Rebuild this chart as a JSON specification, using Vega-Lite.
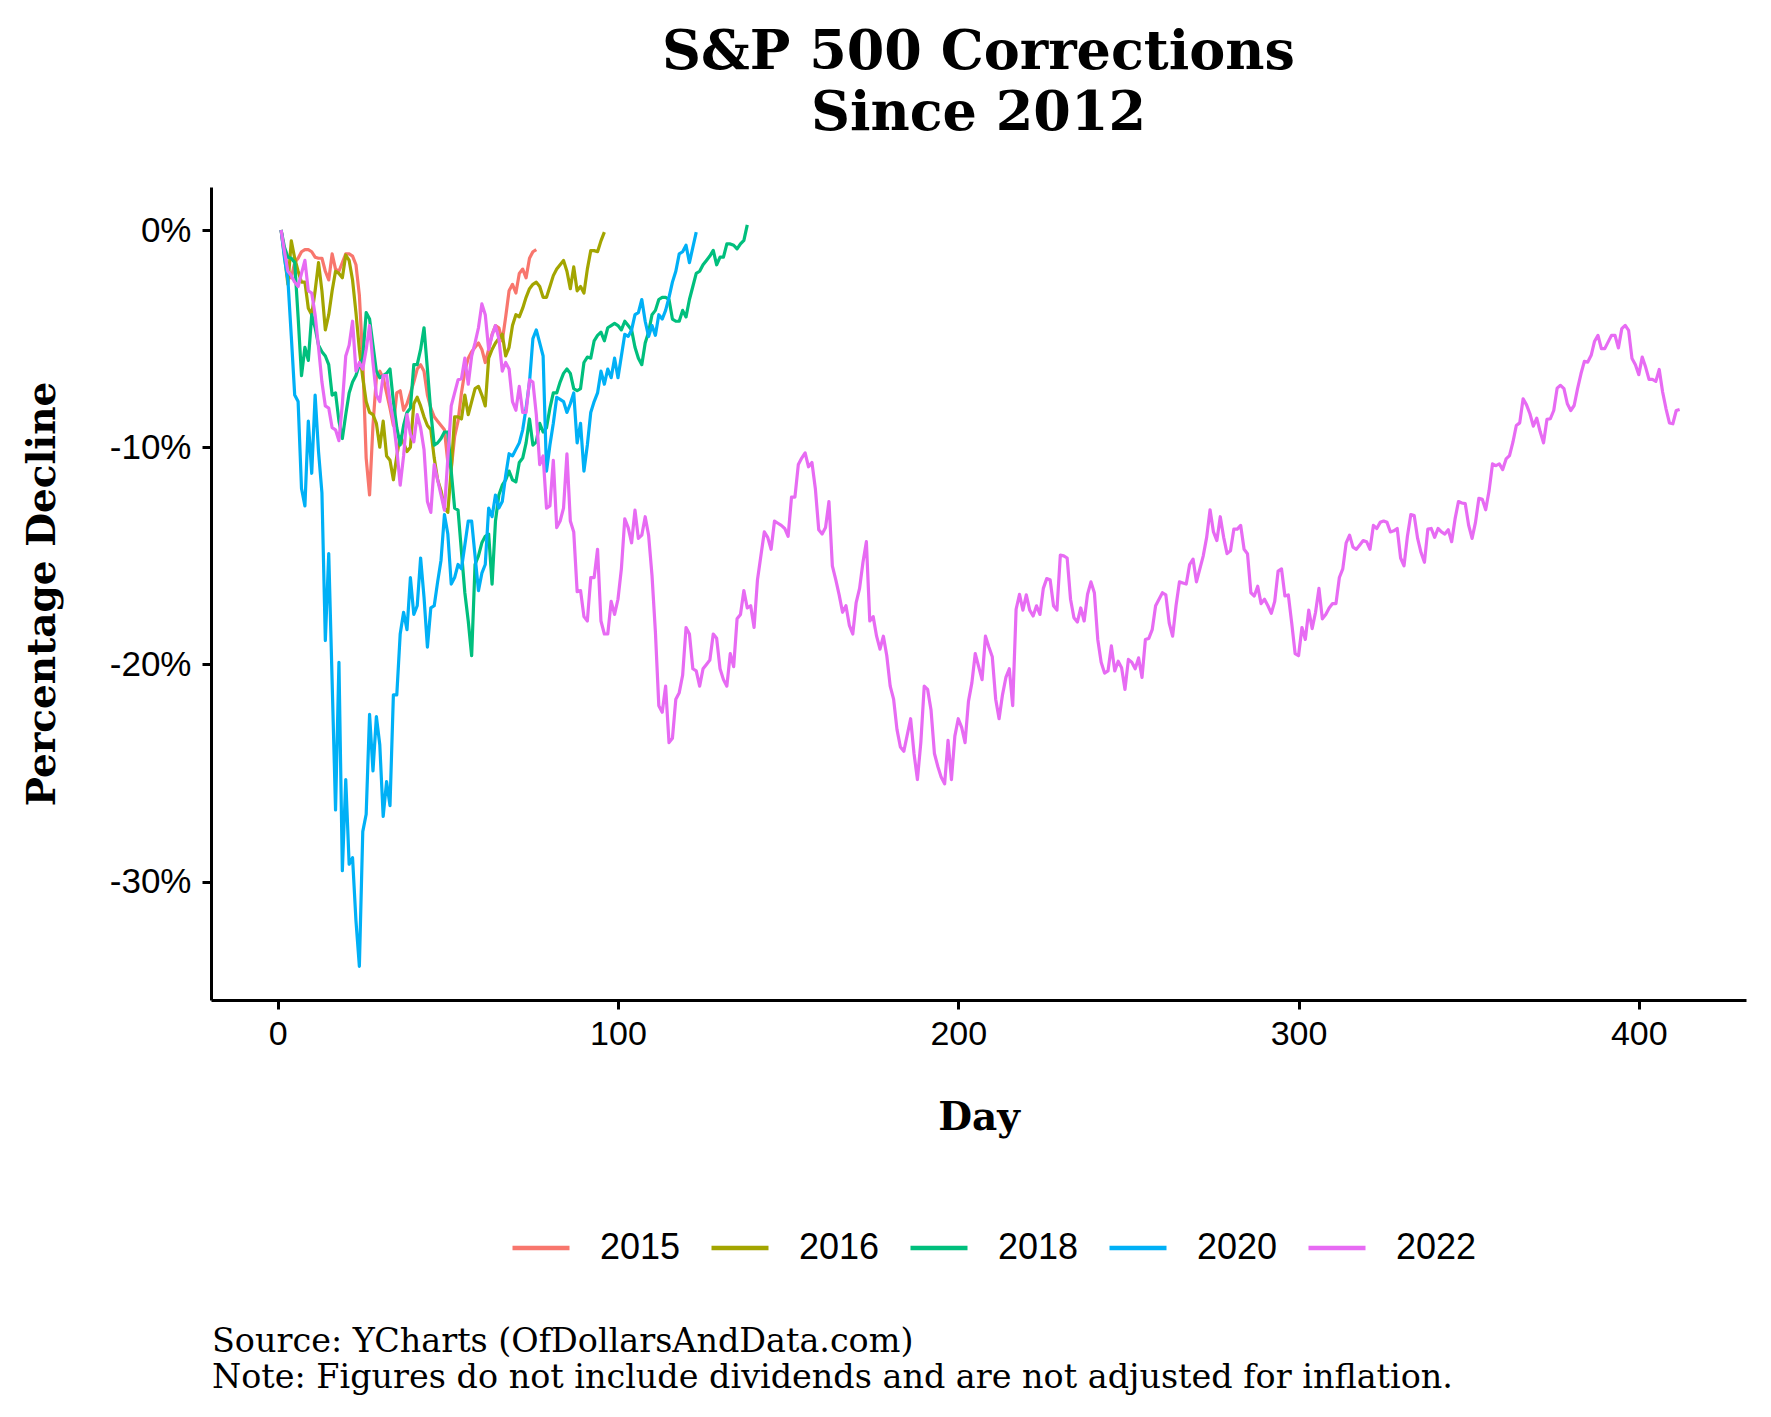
{
"$schema":"https://vega.github.io/schema/vega-lite/v6.json",
"width":1535,"height":813,
"autosize":{"type":"none"},
"padding":{"left":211,"top":187,"right":25,"bottom":417},
"background":"white",
"title":{"text":["S&P 500 Corrections","Since 2012"],"font":"DejaVu Serif","fontSize":54,"fontWeight":"bold","lineHeight":61,"anchor":"middle","frame":"group","offset":46,"color":"black"},
"config":{"view":{"stroke":null},
"axis":{"grid":false,"domainColor":"black","domainWidth":3,"tickColor":"black","tickWidth":3,"tickSize":9,"labelFont":"Liberation Sans","labelFontSize":34,"labelColor":"black","titleFont":"DejaVu Serif","titleFontSize":39,"titleFontWeight":"bold","titleColor":"black"}},
"layer":[
{"data":{"values":[
{"s":"2015","d":1,"v":0},{"s":"2015","d":2,"v":-1.0},{"s":"2015","d":3,"v":-1.8},{"s":"2015","d":4,"v":-2.2},{"s":"2015","d":5,"v":-1.5},{"s":"2015","d":6,"v":-1.3},{"s":"2015","d":7,"v":-1.0},{"s":"2015","d":8,"v":-0.9},{"s":"2015","d":9,"v":-0.9},{"s":"2015","d":10,"v":-1.0},
{"s":"2015","d":11,"v":-1.25},{"s":"2015","d":12,"v":-1.3},{"s":"2015","d":13,"v":-1.3},{"s":"2015","d":14,"v":-1.9},{"s":"2015","d":15,"v":-2.3},{"s":"2015","d":16,"v":-1.1},{"s":"2015","d":17,"v":-1.8},{"s":"2015","d":18,"v":-1.9},{"s":"2015","d":19,"v":-1.5},{"s":"2015","d":20,"v":-1.1},
{"s":"2015","d":21,"v":-1.1},{"s":"2015","d":22,"v":-1.2},{"s":"2015","d":23,"v":-1.6},{"s":"2015","d":24,"v":-3.0},{"s":"2015","d":25,"v":-6.0},{"s":"2015","d":26,"v":-10.5},{"s":"2015","d":27,"v":-12.2},{"s":"2015","d":28,"v":-9.0},{"s":"2015","d":29,"v":-6.8},{"s":"2015","d":30,"v":-6.5},
{"s":"2015","d":31,"v":-6.8},{"s":"2015","d":32,"v":-7.5},{"s":"2015","d":33,"v":-8.2},{"s":"2015","d":34,"v":-9.0},{"s":"2015","d":35,"v":-7.5},{"s":"2015","d":36,"v":-7.4},{"s":"2015","d":37,"v":-8.3},{"s":"2015","d":38,"v":-8.0},{"s":"2015","d":39,"v":-7.5},{"s":"2015","d":40,"v":-7.0},
{"s":"2015","d":41,"v":-6.4},{"s":"2015","d":42,"v":-6.2},{"s":"2015","d":43,"v":-6.5},{"s":"2015","d":44,"v":-7.6},{"s":"2015","d":45,"v":-8.2},{"s":"2015","d":46,"v":-8.6},{"s":"2015","d":47,"v":-8.8},{"s":"2015","d":48,"v":-9.0},{"s":"2015","d":49,"v":-9.2},{"s":"2015","d":50,"v":-10.7},
{"s":"2015","d":51,"v":-11.0},{"s":"2015","d":52,"v":-9.5},{"s":"2015","d":53,"v":-8.8},{"s":"2015","d":54,"v":-7.5},{"s":"2015","d":55,"v":-6.5},{"s":"2015","d":56,"v":-5.9},{"s":"2015","d":57,"v":-5.6},{"s":"2015","d":58,"v":-5.4},{"s":"2015","d":59,"v":-5.2},{"s":"2015","d":60,"v":-5.5},
{"s":"2015","d":61,"v":-6.1},{"s":"2015","d":62,"v":-5.5},{"s":"2015","d":63,"v":-4.8},{"s":"2015","d":64,"v":-4.4},{"s":"2015","d":65,"v":-4.5},{"s":"2015","d":66,"v":-5.1},{"s":"2015","d":67,"v":-4.0},{"s":"2015","d":68,"v":-2.8},{"s":"2015","d":69,"v":-2.5},{"s":"2015","d":70,"v":-2.9},
{"s":"2015","d":71,"v":-2.0},{"s":"2015","d":72,"v":-1.8},{"s":"2015","d":73,"v":-2.2},{"s":"2015","d":74,"v":-1.3},{"s":"2015","d":75,"v":-1.0},{"s":"2015","d":76,"v":-0.9},
{"s":"2016","d":1,"v":0},{"s":"2016","d":2,"v":-1.2},{"s":"2016","d":3,"v":-2.5},{"s":"2016","d":4,"v":-0.5},{"s":"2016","d":5,"v":-1.3},{"s":"2016","d":6,"v":-1.9},{"s":"2016","d":7,"v":-2.4},{"s":"2016","d":8,"v":-2.4},{"s":"2016","d":9,"v":-3.6},{"s":"2016","d":10,"v":-3.9},
{"s":"2016","d":11,"v":-2.8},{"s":"2016","d":12,"v":-1.5},{"s":"2016","d":13,"v":-2.8},{"s":"2016","d":14,"v":-4.6},{"s":"2016","d":15,"v":-3.9},{"s":"2016","d":16,"v":-2.8},{"s":"2016","d":17,"v":-1.9},{"s":"2016","d":18,"v":-2.0},{"s":"2016","d":19,"v":-2.2},{"s":"2016","d":20,"v":-1.15},
{"s":"2016","d":21,"v":-1.4},{"s":"2016","d":22,"v":-2.3},{"s":"2016","d":23,"v":-3.8},{"s":"2016","d":24,"v":-5.5},{"s":"2016","d":25,"v":-6.8},{"s":"2016","d":26,"v":-7.9},{"s":"2016","d":27,"v":-8.4},{"s":"2016","d":28,"v":-8.5},{"s":"2016","d":29,"v":-8.9},{"s":"2016","d":30,"v":-10.0},
{"s":"2016","d":31,"v":-8.8},{"s":"2016","d":32,"v":-10.4},{"s":"2016","d":33,"v":-10.6},{"s":"2016","d":34,"v":-11.5},{"s":"2016","d":35,"v":-10.4},{"s":"2016","d":36,"v":-9.5},{"s":"2016","d":37,"v":-9.8},{"s":"2016","d":38,"v":-10.2},{"s":"2016","d":39,"v":-10.0},{"s":"2016","d":40,"v":-8.0},
{"s":"2016","d":41,"v":-7.7},{"s":"2016","d":42,"v":-8.1},{"s":"2016","d":43,"v":-8.6},{"s":"2016","d":44,"v":-9.0},{"s":"2016","d":45,"v":-9.2},{"s":"2016","d":46,"v":-10.5},{"s":"2016","d":47,"v":-11.5},{"s":"2016","d":48,"v":-12.0},{"s":"2016","d":49,"v":-12.8},{"s":"2016","d":50,"v":-13.0},
{"s":"2016","d":51,"v":-11.0},{"s":"2016","d":52,"v":-8.6},{"s":"2016","d":53,"v":-8.6},{"s":"2016","d":54,"v":-8.7},{"s":"2016","d":55,"v":-7.6},{"s":"2016","d":56,"v":-8.5},{"s":"2016","d":57,"v":-7.9},{"s":"2016","d":58,"v":-7.3},{"s":"2016","d":59,"v":-7.2},{"s":"2016","d":60,"v":-7.6},
{"s":"2016","d":61,"v":-8.1},{"s":"2016","d":62,"v":-5.9},{"s":"2016","d":63,"v":-5.5},{"s":"2016","d":64,"v":-5.2},{"s":"2016","d":65,"v":-5.0},{"s":"2016","d":66,"v":-4.8},{"s":"2016","d":67,"v":-5.8},{"s":"2016","d":68,"v":-5.4},{"s":"2016","d":69,"v":-4.4},{"s":"2016","d":70,"v":-3.9},
{"s":"2016","d":71,"v":-4.0},{"s":"2016","d":72,"v":-3.6},{"s":"2016","d":73,"v":-3.1},{"s":"2016","d":74,"v":-2.7},{"s":"2016","d":75,"v":-2.5},{"s":"2016","d":76,"v":-2.4},{"s":"2016","d":77,"v":-2.6},{"s":"2016","d":78,"v":-3.1},{"s":"2016","d":79,"v":-3.1},{"s":"2016","d":80,"v":-2.6},
{"s":"2016","d":81,"v":-2.1},{"s":"2016","d":82,"v":-1.8},{"s":"2016","d":83,"v":-1.6},{"s":"2016","d":84,"v":-1.4},{"s":"2016","d":85,"v":-1.9},{"s":"2016","d":86,"v":-2.7},{"s":"2016","d":87,"v":-1.7},{"s":"2016","d":88,"v":-2.8},{"s":"2016","d":89,"v":-2.6},{"s":"2016","d":90,"v":-2.9},
{"s":"2016","d":91,"v":-1.8},{"s":"2016","d":92,"v":-0.95},{"s":"2016","d":93,"v":-0.95},{"s":"2016","d":94,"v":-1.0},{"s":"2016","d":95,"v":-0.5},{"s":"2016","d":96,"v":-0.1},
{"s":"2018","d":1,"v":0},{"s":"2018","d":2,"v":-0.8},{"s":"2018","d":3,"v":-1.25},{"s":"2018","d":4,"v":-1.3},{"s":"2018","d":5,"v":-1.5},{"s":"2018","d":6,"v":-4.0},{"s":"2018","d":7,"v":-6.7},{"s":"2018","d":8,"v":-5.4},{"s":"2018","d":9,"v":-6.0},{"s":"2018","d":10,"v":-3.9},
{"s":"2018","d":11,"v":-4.5},{"s":"2018","d":12,"v":-5.3},{"s":"2018","d":13,"v":-5.6},{"s":"2018","d":14,"v":-5.8},{"s":"2018","d":15,"v":-6.2},{"s":"2018","d":16,"v":-7.6},{"s":"2018","d":17,"v":-7.5},{"s":"2018","d":18,"v":-8.8},{"s":"2018","d":19,"v":-9.6},{"s":"2018","d":20,"v":-8.5},
{"s":"2018","d":21,"v":-7.5},{"s":"2018","d":22,"v":-7.0},{"s":"2018","d":23,"v":-6.7},{"s":"2018","d":24,"v":-6.2},{"s":"2018","d":25,"v":-5.9},{"s":"2018","d":26,"v":-3.8},{"s":"2018","d":27,"v":-4.1},{"s":"2018","d":28,"v":-5.3},{"s":"2018","d":29,"v":-6.5},{"s":"2018","d":30,"v":-6.8},
{"s":"2018","d":31,"v":-6.7},{"s":"2018","d":32,"v":-6.6},{"s":"2018","d":33,"v":-6.4},{"s":"2018","d":34,"v":-7.9},{"s":"2018","d":35,"v":-9.1},{"s":"2018","d":36,"v":-9.9},{"s":"2018","d":37,"v":-9.0},{"s":"2018","d":38,"v":-8.4},{"s":"2018","d":39,"v":-8.2},{"s":"2018","d":40,"v":-6.2},
{"s":"2018","d":41,"v":-6.2},{"s":"2018","d":42,"v":-5.5},{"s":"2018","d":43,"v":-4.5},{"s":"2018","d":44,"v":-6.4},{"s":"2018","d":45,"v":-8.4},{"s":"2018","d":46,"v":-9.9},{"s":"2018","d":47,"v":-9.8},{"s":"2018","d":48,"v":-9.6},{"s":"2018","d":49,"v":-9.3},{"s":"2018","d":50,"v":-9.3},
{"s":"2018","d":51,"v":-11.1},{"s":"2018","d":52,"v":-12.8},{"s":"2018","d":53,"v":-12.9},{"s":"2018","d":54,"v":-14.8},{"s":"2018","d":55,"v":-16.7},{"s":"2018","d":56,"v":-18.0},{"s":"2018","d":57,"v":-19.6},{"s":"2018","d":58,"v":-15.4},{"s":"2018","d":59,"v":-15.0},{"s":"2018","d":60,"v":-14.4},
{"s":"2018","d":61,"v":-14.1},{"s":"2018","d":62,"v":-14.0},{"s":"2018","d":63,"v":-16.3},{"s":"2018","d":64,"v":-13.4},{"s":"2018","d":65,"v":-12.2},{"s":"2018","d":66,"v":-11.75},{"s":"2018","d":67,"v":-11.5},{"s":"2018","d":68,"v":-11.1},{"s":"2018","d":69,"v":-11.5},{"s":"2018","d":70,"v":-11.6},
{"s":"2018","d":71,"v":-10.7},{"s":"2018","d":72,"v":-10.5},{"s":"2018","d":73,"v":-9.8},{"s":"2018","d":74,"v":-8.7},{"s":"2018","d":75,"v":-9.9},{"s":"2018","d":76,"v":-9.75},{"s":"2018","d":77,"v":-8.9},{"s":"2018","d":78,"v":-9.3},{"s":"2018","d":79,"v":-9.1},{"s":"2018","d":80,"v":-8.2},
{"s":"2018","d":81,"v":-7.5},{"s":"2018","d":82,"v":-7.5},{"s":"2018","d":83,"v":-7.0},{"s":"2018","d":84,"v":-6.6},{"s":"2018","d":85,"v":-6.4},{"s":"2018","d":86,"v":-6.6},{"s":"2018","d":87,"v":-7.3},{"s":"2018","d":88,"v":-7.4},{"s":"2018","d":89,"v":-7.3},{"s":"2018","d":90,"v":-6.1},
{"s":"2018","d":91,"v":-5.85},{"s":"2018","d":92,"v":-5.9},{"s":"2018","d":93,"v":-5.1},{"s":"2018","d":94,"v":-4.85},{"s":"2018","d":95,"v":-4.7},{"s":"2018","d":96,"v":-5.1},{"s":"2018","d":97,"v":-4.5},{"s":"2018","d":98,"v":-4.4},{"s":"2018","d":99,"v":-4.3},{"s":"2018","d":100,"v":-4.4},
{"s":"2018","d":101,"v":-4.6},{"s":"2018","d":102,"v":-4.2},{"s":"2018","d":103,"v":-4.4},{"s":"2018","d":104,"v":-4.6},{"s":"2018","d":105,"v":-5.4},{"s":"2018","d":106,"v":-5.9},{"s":"2018","d":107,"v":-6.2},{"s":"2018","d":108,"v":-5.2},{"s":"2018","d":109,"v":-4.7},{"s":"2018","d":110,"v":-3.9},
{"s":"2018","d":111,"v":-3.7},{"s":"2018","d":112,"v":-3.2},{"s":"2018","d":113,"v":-3.1},{"s":"2018","d":114,"v":-3.1},{"s":"2018","d":115,"v":-3.2},{"s":"2018","d":116,"v":-4.1},{"s":"2018","d":117,"v":-4.2},{"s":"2018","d":118,"v":-4.2},{"s":"2018","d":119,"v":-3.7},{"s":"2018","d":120,"v":-4.0},
{"s":"2018","d":121,"v":-3.2},{"s":"2018","d":122,"v":-2.6},{"s":"2018","d":123,"v":-2.0},{"s":"2018","d":124,"v":-1.9},{"s":"2018","d":125,"v":-1.6},{"s":"2018","d":126,"v":-1.4},{"s":"2018","d":127,"v":-1.2},{"s":"2018","d":128,"v":-0.94},{"s":"2018","d":129,"v":-1.6},{"s":"2018","d":130,"v":-1.25},
{"s":"2018","d":131,"v":-1.25},{"s":"2018","d":132,"v":-0.64},{"s":"2018","d":133,"v":-0.64},{"s":"2018","d":134,"v":-0.7},{"s":"2018","d":135,"v":-0.87},{"s":"2018","d":136,"v":-0.64},{"s":"2018","d":137,"v":-0.48},{"s":"2018","d":138,"v":0.24},
{"s":"2020","d":1,"v":0},{"s":"2020","d":2,"v":-1.3},{"s":"2020","d":3,"v":-2.3},{"s":"2020","d":4,"v":-4.9},{"s":"2020","d":5,"v":-7.6},{"s":"2020","d":6,"v":-7.9},{"s":"2020","d":7,"v":-11.9},{"s":"2020","d":8,"v":-12.7},{"s":"2020","d":9,"v":-8.8},{"s":"2020","d":10,"v":-11.2},
{"s":"2020","d":11,"v":-7.6},{"s":"2020","d":12,"v":-10.2},{"s":"2020","d":13,"v":-12.1},{"s":"2020","d":14,"v":-18.9},{"s":"2020","d":15,"v":-14.9},{"s":"2020","d":17,"v":-26.7},{"s":"2020","d":18,"v":-19.9},{"s":"2020","d":19,"v":-29.5},{"s":"2020","d":20,"v":-25.3},
{"s":"2020","d":21,"v":-29.2},{"s":"2020","d":22,"v":-28.9},{"s":"2020","d":23,"v":-31.8},{"s":"2020","d":24,"v":-33.9},{"s":"2020","d":25,"v":-27.7},{"s":"2020","d":26,"v":-26.9},{"s":"2020","d":27,"v":-22.3},{"s":"2020","d":28,"v":-24.9},{"s":"2020","d":29,"v":-22.4},{"s":"2020","d":30,"v":-23.7},
{"s":"2020","d":31,"v":-27.0},{"s":"2020","d":32,"v":-25.4},{"s":"2020","d":33,"v":-26.5},{"s":"2020","d":34,"v":-21.4},{"s":"2020","d":35,"v":-21.4},{"s":"2020","d":36,"v":-18.6},{"s":"2020","d":37,"v":-17.6},{"s":"2020","d":38,"v":-18.4},{"s":"2020","d":39,"v":-16.0},{"s":"2020","d":40,"v":-17.7},
{"s":"2020","d":41,"v":-17.3},{"s":"2020","d":42,"v":-15.1},{"s":"2020","d":43,"v":-16.9},{"s":"2020","d":44,"v":-19.2},{"s":"2020","d":45,"v":-17.4},{"s":"2020","d":46,"v":-17.3},{"s":"2020","d":47,"v":-16.2},{"s":"2020","d":48,"v":-15.2},{"s":"2020","d":49,"v":-13.1},{"s":"2020","d":50,"v":-14.0},
{"s":"2020","d":51,"v":-16.3},{"s":"2020","d":52,"v":-16.0},{"s":"2020","d":53,"v":-15.4},{"s":"2020","d":54,"v":-15.6},{"s":"2020","d":55,"v":-14.5},{"s":"2020","d":56,"v":-13.4},{"s":"2020","d":57,"v":-13.4},{"s":"2020","d":58,"v":-15.0},{"s":"2020","d":59,"v":-16.6},{"s":"2020","d":60,"v":-15.8},
{"s":"2020","d":61,"v":-15.4},{"s":"2020","d":62,"v":-12.8},{"s":"2020","d":63,"v":-13.2},{"s":"2020","d":64,"v":-12.2},{"s":"2020","d":65,"v":-12.8},{"s":"2020","d":66,"v":-12.5},{"s":"2020","d":67,"v":-11.3},{"s":"2020","d":68,"v":-10.3},{"s":"2020","d":69,"v":-10.4},{"s":"2020","d":70,"v":-10.1},
{"s":"2020","d":71,"v":-9.8},{"s":"2020","d":72,"v":-9.2},{"s":"2020","d":73,"v":-8.2},{"s":"2020","d":74,"v":-7.0},{"s":"2020","d":75,"v":-5.0},{"s":"2020","d":76,"v":-4.6},{"s":"2020","d":77,"v":-5.2},{"s":"2020","d":78,"v":-5.8},{"s":"2020","d":79,"v":-11.1},{"s":"2020","d":80,"v":-9.9},
{"s":"2020","d":81,"v":-8.9},{"s":"2020","d":82,"v":-7.7},{"s":"2020","d":83,"v":-7.8},{"s":"2020","d":84,"v":-7.9},{"s":"2020","d":85,"v":-8.4},{"s":"2020","d":86,"v":-8.0},{"s":"2020","d":87,"v":-7.5},{"s":"2020","d":88,"v":-9.8},{"s":"2020","d":89,"v":-8.9},{"s":"2020","d":90,"v":-11.1},
{"s":"2020","d":91,"v":-9.9},{"s":"2020","d":92,"v":-8.4},{"s":"2020","d":93,"v":-7.9},{"s":"2020","d":94,"v":-7.5},{"s":"2020","d":95,"v":-6.5},{"s":"2020","d":96,"v":-7.1},{"s":"2020","d":97,"v":-6.4},{"s":"2020","d":98,"v":-6.8},{"s":"2020","d":99,"v":-5.9},{"s":"2020","d":100,"v":-6.8},
{"s":"2020","d":101,"v":-5.8},{"s":"2020","d":102,"v":-4.8},{"s":"2020","d":103,"v":-4.9},{"s":"2020","d":104,"v":-4.6},{"s":"2020","d":105,"v":-3.9},{"s":"2020","d":106,"v":-3.8},{"s":"2020","d":107,"v":-3.2},{"s":"2020","d":108,"v":-4.2},{"s":"2020","d":109,"v":-4.9},{"s":"2020","d":110,"v":-4.4},
{"s":"2020","d":111,"v":-4.85},{"s":"2020","d":112,"v":-3.9},{"s":"2020","d":113,"v":-4.1},{"s":"2020","d":114,"v":-3.7},{"s":"2020","d":115,"v":-3.1},{"s":"2020","d":116,"v":-2.4},{"s":"2020","d":117,"v":-1.9},{"s":"2020","d":118,"v":-1.1},{"s":"2020","d":119,"v":-1.0},{"s":"2020","d":120,"v":-0.7},
{"s":"2020","d":121,"v":-1.5},{"s":"2020","d":123,"v":-0.1},
{"s":"2022","d":1,"v":0},{"s":"2022","d":2,"v":-1.0},{"s":"2022","d":3,"v":-1.9},{"s":"2022","d":4,"v":-2.1},{"s":"2022","d":5,"v":-2.4},{"s":"2022","d":6,"v":-2.6},{"s":"2022","d":7,"v":-2.0},{"s":"2022","d":8,"v":-1.4},{"s":"2022","d":9,"v":-2.8},{"s":"2022","d":10,"v":-2.9},
{"s":"2022","d":11,"v":-3.9},{"s":"2022","d":12,"v":-5.4},{"s":"2022","d":13,"v":-7.0},{"s":"2022","d":14,"v":-8.1},{"s":"2022","d":15,"v":-8.2},{"s":"2022","d":16,"v":-9.1},{"s":"2022","d":17,"v":-9.2},{"s":"2022","d":18,"v":-9.7},{"s":"2022","d":19,"v":-8.0},{"s":"2022","d":20,"v":-5.8},
{"s":"2022","d":21,"v":-5.3},{"s":"2022","d":22,"v":-4.2},{"s":"2022","d":23,"v":-6.5},{"s":"2022","d":24,"v":-6.1},{"s":"2022","d":25,"v":-6.4},{"s":"2022","d":26,"v":-5.5},{"s":"2022","d":27,"v":-4.4},{"s":"2022","d":28,"v":-6.1},{"s":"2022","d":29,"v":-7.6},{"s":"2022","d":30,"v":-7.9},
{"s":"2022","d":31,"v":-6.7},{"s":"2022","d":32,"v":-6.7},{"s":"2022","d":33,"v":-7.9},{"s":"2022","d":34,"v":-8.8},{"s":"2022","d":35,"v":-10.1},{"s":"2022","d":36,"v":-11.75},{"s":"2022","d":37,"v":-10.4},{"s":"2022","d":38,"v":-8.5},{"s":"2022","d":39,"v":-9.4},{"s":"2022","d":40,"v":-9.75},
{"s":"2022","d":41,"v":-8.5},{"s":"2022","d":42,"v":-9.1},{"s":"2022","d":43,"v":-10.1},{"s":"2022","d":44,"v":-12.5},{"s":"2022","d":45,"v":-13.0},{"s":"2022","d":46,"v":-10.8},{"s":"2022","d":47,"v":-11.5},{"s":"2022","d":48,"v":-12.2},{"s":"2022","d":49,"v":-12.9},{"s":"2022","d":50,"v":-10.5},
{"s":"2022","d":51,"v":-8.1},{"s":"2022","d":52,"v":-7.5},{"s":"2022","d":53,"v":-6.9},{"s":"2022","d":54,"v":-6.85},{"s":"2022","d":55,"v":-5.9},{"s":"2022","d":56,"v":-7.1},{"s":"2022","d":57,"v":-5.8},{"s":"2022","d":58,"v":-5.2},{"s":"2022","d":59,"v":-4.5},{"s":"2022","d":60,"v":-3.4},
{"s":"2022","d":61,"v":-3.9},{"s":"2022","d":62,"v":-5.5},{"s":"2022","d":63,"v":-4.85},{"s":"2022","d":64,"v":-4.4},{"s":"2022","d":65,"v":-5.0},{"s":"2022","d":66,"v":-6.5},{"s":"2022","d":67,"v":-6.1},{"s":"2022","d":68,"v":-6.4},{"s":"2022","d":69,"v":-7.9},{"s":"2022","d":70,"v":-8.3},
{"s":"2022","d":71,"v":-7.2},{"s":"2022","d":72,"v":-8.4},{"s":"2022","d":73,"v":-8.4},{"s":"2022","d":74,"v":-6.9},{"s":"2022","d":75,"v":-7.0},{"s":"2022","d":76,"v":-8.5},{"s":"2022","d":77,"v":-10.8},{"s":"2022","d":78,"v":-10.4},{"s":"2022","d":79,"v":-12.8},{"s":"2022","d":80,"v":-12.7},
{"s":"2022","d":81,"v":-10.6},{"s":"2022","d":82,"v":-13.7},{"s":"2022","d":83,"v":-13.4},{"s":"2022","d":84,"v":-12.8},{"s":"2022","d":85,"v":-10.3},{"s":"2022","d":86,"v":-13.4},{"s":"2022","d":87,"v":-13.9},{"s":"2022","d":88,"v":-16.65},{"s":"2022","d":89,"v":-16.6},{"s":"2022","d":90,"v":-17.8},
{"s":"2022","d":91,"v":-18.0},{"s":"2022","d":92,"v":-16.0},{"s":"2022","d":93,"v":-16.0},{"s":"2022","d":94,"v":-14.7},{"s":"2022","d":95,"v":-18.0},{"s":"2022","d":96,"v":-18.6},{"s":"2022","d":97,"v":-18.6},{"s":"2022","d":98,"v":-17.1},{"s":"2022","d":99,"v":-17.7},{"s":"2022","d":100,"v":-17.0},
{"s":"2022","d":101,"v":-15.6},{"s":"2022","d":102,"v":-13.3},{"s":"2022","d":103,"v":-13.7},{"s":"2022","d":104,"v":-14.4},{"s":"2022","d":105,"v":-12.9},{"s":"2022","d":106,"v":-14.2},{"s":"2022","d":107,"v":-14.05},{"s":"2022","d":108,"v":-13.2},{"s":"2022","d":109,"v":-14.05},{"s":"2022","d":110,"v":-15.9},
{"s":"2022","d":111,"v":-18.5},{"s":"2022","d":112,"v":-21.9},{"s":"2022","d":113,"v":-22.2},{"s":"2022","d":114,"v":-21.0},{"s":"2022","d":115,"v":-23.6},{"s":"2022","d":116,"v":-23.4},{"s":"2022","d":117,"v":-21.6},{"s":"2022","d":118,"v":-21.3},{"s":"2022","d":119,"v":-20.5},{"s":"2022","d":120,"v":-18.3},
{"s":"2022","d":121,"v":-18.6},{"s":"2022","d":122,"v":-20.2},{"s":"2022","d":123,"v":-20.3},{"s":"2022","d":124,"v":-21.0},{"s":"2022","d":125,"v":-20.2},{"s":"2022","d":126,"v":-20.0},{"s":"2022","d":127,"v":-19.8},{"s":"2022","d":128,"v":-18.6},{"s":"2022","d":129,"v":-18.8},{"s":"2022","d":130,"v":-20.2},
{"s":"2022","d":131,"v":-20.7},{"s":"2022","d":132,"v":-21.0},{"s":"2022","d":133,"v":-19.5},{"s":"2022","d":134,"v":-20.1},{"s":"2022","d":135,"v":-17.9},{"s":"2022","d":136,"v":-17.7},{"s":"2022","d":137,"v":-16.6},{"s":"2022","d":138,"v":-17.4},{"s":"2022","d":139,"v":-17.3},{"s":"2022","d":140,"v":-18.3},
{"s":"2022","d":141,"v":-16.1},{"s":"2022","d":142,"v":-15.0},{"s":"2022","d":143,"v":-13.9},{"s":"2022","d":144,"v":-14.15},{"s":"2022","d":145,"v":-14.7},{"s":"2022","d":146,"v":-13.4},{"s":"2022","d":147,"v":-13.5},{"s":"2022","d":148,"v":-13.6},{"s":"2022","d":149,"v":-13.74},{"s":"2022","d":150,"v":-14.1},
{"s":"2022","d":151,"v":-12.3},{"s":"2022","d":152,"v":-12.3},{"s":"2022","d":153,"v":-10.8},{"s":"2022","d":154,"v":-10.5},{"s":"2022","d":155,"v":-10.26},{"s":"2022","d":156,"v":-10.9},{"s":"2022","d":157,"v":-10.7},{"s":"2022","d":158,"v":-11.9},{"s":"2022","d":159,"v":-13.8},{"s":"2022","d":160,"v":-14.0},
{"s":"2022","d":161,"v":-13.7},{"s":"2022","d":162,"v":-12.5},{"s":"2022","d":163,"v":-15.46},{"s":"2022","d":164,"v":-16.1},{"s":"2022","d":165,"v":-16.8},{"s":"2022","d":166,"v":-17.6},{"s":"2022","d":167,"v":-17.3},{"s":"2022","d":168,"v":-18.2},{"s":"2022","d":169,"v":-18.6},{"s":"2022","d":170,"v":-17.15},
{"s":"2022","d":171,"v":-16.5},{"s":"2022","d":172,"v":-15.3},{"s":"2022","d":173,"v":-14.35},{"s":"2022","d":174,"v":-18.0},{"s":"2022","d":175,"v":-17.8},{"s":"2022","d":176,"v":-18.7},{"s":"2022","d":177,"v":-19.3},{"s":"2022","d":178,"v":-18.7},{"s":"2022","d":179,"v":-19.6},{"s":"2022","d":180,"v":-21.0},
{"s":"2022","d":181,"v":-21.6},{"s":"2022","d":182,"v":-23.0},{"s":"2022","d":183,"v":-23.8},{"s":"2022","d":184,"v":-24.0},{"s":"2022","d":186,"v":-22.5},{"s":"2022","d":187,"v":-24.1},{"s":"2022","d":188,"v":-25.3},{"s":"2022","d":189,"v":-23.6},{"s":"2022","d":190,"v":-21.0},{"s":"2022","d":191,"v":-21.15},
{"s":"2022","d":192,"v":-22.1},{"s":"2022","d":193,"v":-24.1},{"s":"2022","d":194,"v":-24.7},{"s":"2022","d":195,"v":-25.2},{"s":"2022","d":196,"v":-25.5},{"s":"2022","d":197,"v":-23.5},{"s":"2022","d":198,"v":-25.3},{"s":"2022","d":199,"v":-23.3},{"s":"2022","d":200,"v":-22.5},{"s":"2022","d":201,"v":-22.9},
{"s":"2022","d":202,"v":-23.6},{"s":"2022","d":203,"v":-21.7},{"s":"2022","d":204,"v":-20.85},{"s":"2022","d":205,"v":-19.5},{"s":"2022","d":206,"v":-20.1},{"s":"2022","d":207,"v":-20.7},{"s":"2022","d":208,"v":-18.7},{"s":"2022","d":209,"v":-19.2},{"s":"2022","d":210,"v":-19.65},{"s":"2022","d":211,"v":-21.6},
{"s":"2022","d":212,"v":-22.5},{"s":"2022","d":213,"v":-21.4},{"s":"2022","d":214,"v":-20.6},{"s":"2022","d":215,"v":-20.2},{"s":"2022","d":216,"v":-21.9},{"s":"2022","d":217,"v":-17.46},{"s":"2022","d":218,"v":-16.77},{"s":"2022","d":219,"v":-17.5},{"s":"2022","d":220,"v":-16.8},{"s":"2022","d":221,"v":-17.5},
{"s":"2022","d":222,"v":-17.77},{"s":"2022","d":223,"v":-17.3},{"s":"2022","d":224,"v":-17.7},{"s":"2022","d":225,"v":-16.5},{"s":"2022","d":226,"v":-16.05},{"s":"2022","d":227,"v":-16.1},{"s":"2022","d":228,"v":-17.3},{"s":"2022","d":229,"v":-17.5},{"s":"2022","d":230,"v":-14.97},{"s":"2022","d":231,"v":-15.0},
{"s":"2022","d":232,"v":-15.1},{"s":"2022","d":233,"v":-17.0},{"s":"2022","d":234,"v":-17.85},{"s":"2022","d":235,"v":-18.05},{"s":"2022","d":236,"v":-17.4},{"s":"2022","d":237,"v":-18.0},{"s":"2022","d":238,"v":-16.77},{"s":"2022","d":239,"v":-16.2},{"s":"2022","d":240,"v":-16.7},{"s":"2022","d":241,"v":-18.85},
{"s":"2022","d":242,"v":-19.9},{"s":"2022","d":243,"v":-20.4},{"s":"2022","d":244,"v":-20.3},{"s":"2022","d":245,"v":-19.15},{"s":"2022","d":246,"v":-20.3},{"s":"2022","d":247,"v":-19.85},{"s":"2022","d":248,"v":-20.15},{"s":"2022","d":249,"v":-21.15},{"s":"2022","d":250,"v":-19.77},{"s":"2022","d":251,"v":-19.9},
{"s":"2022","d":252,"v":-20.2},{"s":"2022","d":253,"v":-19.7},{"s":"2022","d":254,"v":-20.6},{"s":"2022","d":255,"v":-18.85},{"s":"2022","d":256,"v":-18.8},{"s":"2022","d":257,"v":-18.4},{"s":"2022","d":258,"v":-17.3},{"s":"2022","d":259,"v":-17.0},{"s":"2022","d":260,"v":-16.7},{"s":"2022","d":261,"v":-16.8},
{"s":"2022","d":262,"v":-18.1},{"s":"2022","d":263,"v":-18.7},{"s":"2022","d":264,"v":-17.3},{"s":"2022","d":265,"v":-16.2},{"s":"2022","d":266,"v":-16.25},{"s":"2022","d":267,"v":-16.3},{"s":"2022","d":268,"v":-15.4},{"s":"2022","d":269,"v":-15.15},{"s":"2022","d":270,"v":-16.2},{"s":"2022","d":272,"v":-15.0},
{"s":"2022","d":273,"v":-14.15},{"s":"2022","d":274,"v":-12.88},{"s":"2022","d":275,"v":-13.9},{"s":"2022","d":276,"v":-14.3},{"s":"2022","d":277,"v":-13.2},{"s":"2022","d":278,"v":-14.15},{"s":"2022","d":279,"v":-14.9},{"s":"2022","d":280,"v":-14.77},{"s":"2022","d":281,"v":-13.77},{"s":"2022","d":282,"v":-13.77},
{"s":"2022","d":283,"v":-13.6},{"s":"2022","d":284,"v":-14.7},{"s":"2022","d":285,"v":-14.9},{"s":"2022","d":286,"v":-16.7},{"s":"2022","d":287,"v":-16.85},{"s":"2022","d":288,"v":-16.4},{"s":"2022","d":289,"v":-17.2},{"s":"2022","d":290,"v":-17.0},{"s":"2022","d":291,"v":-17.3},{"s":"2022","d":292,"v":-17.65},
{"s":"2022","d":293,"v":-17.1},{"s":"2022","d":294,"v":-15.7},{"s":"2022","d":295,"v":-15.6},{"s":"2022","d":296,"v":-16.85},{"s":"2022","d":297,"v":-16.8},{"s":"2022","d":298,"v":-18.1},{"s":"2022","d":299,"v":-19.5},{"s":"2022","d":300,"v":-19.6},{"s":"2022","d":301,"v":-18.3},{"s":"2022","d":302,"v":-18.85},
{"s":"2022","d":303,"v":-17.5},{"s":"2022","d":304,"v":-18.35},{"s":"2022","d":305,"v":-17.6},{"s":"2022","d":306,"v":-16.5},{"s":"2022","d":307,"v":-17.9},{"s":"2022","d":308,"v":-17.7},{"s":"2022","d":309,"v":-17.4},{"s":"2022","d":310,"v":-17.2},{"s":"2022","d":311,"v":-17.2},{"s":"2022","d":312,"v":-16.0},
{"s":"2022","d":313,"v":-15.6},{"s":"2022","d":314,"v":-14.4},{"s":"2022","d":315,"v":-14.05},{"s":"2022","d":316,"v":-14.6},{"s":"2022","d":317,"v":-14.7},{"s":"2022","d":318,"v":-14.5},{"s":"2022","d":319,"v":-14.3},{"s":"2022","d":320,"v":-14.35},{"s":"2022","d":321,"v":-14.7},{"s":"2022","d":322,"v":-13.6},
{"s":"2022","d":323,"v":-13.74},{"s":"2022","d":324,"v":-13.46},{"s":"2022","d":325,"v":-13.4},{"s":"2022","d":326,"v":-13.46},{"s":"2022","d":327,"v":-13.9},{"s":"2022","d":328,"v":-13.85},{"s":"2022","d":329,"v":-13.74},{"s":"2022","d":330,"v":-15.1},{"s":"2022","d":331,"v":-15.46},{"s":"2022","d":332,"v":-14.1},
{"s":"2022","d":333,"v":-13.1},{"s":"2022","d":334,"v":-13.15},{"s":"2022","d":335,"v":-14.2},{"s":"2022","d":336,"v":-14.85},{"s":"2022","d":337,"v":-15.3},{"s":"2022","d":338,"v":-13.77},{"s":"2022","d":339,"v":-13.74},{"s":"2022","d":340,"v":-14.15},{"s":"2022","d":341,"v":-13.74},{"s":"2022","d":342,"v":-13.9},
{"s":"2022","d":343,"v":-14.0},{"s":"2022","d":344,"v":-13.8},{"s":"2022","d":345,"v":-14.35},{"s":"2022","d":346,"v":-13.3},{"s":"2022","d":347,"v":-12.5},{"s":"2022","d":348,"v":-12.57},{"s":"2022","d":349,"v":-12.6},{"s":"2022","d":350,"v":-13.6},{"s":"2022","d":351,"v":-14.2},{"s":"2022","d":352,"v":-13.46},
{"s":"2022","d":353,"v":-12.35},{"s":"2022","d":354,"v":-12.4},{"s":"2022","d":355,"v":-12.88},{"s":"2022","d":356,"v":-12.0},{"s":"2022","d":357,"v":-10.77},{"s":"2022","d":358,"v":-10.85},{"s":"2022","d":359,"v":-10.77},{"s":"2022","d":360,"v":-11.03},{"s":"2022","d":361,"v":-10.54},{"s":"2022","d":362,"v":-10.39},
{"s":"2022","d":363,"v":-9.77},{"s":"2022","d":364,"v":-9.0},{"s":"2022","d":365,"v":-8.88},{"s":"2022","d":366,"v":-7.77},{"s":"2022","d":367,"v":-8.05},{"s":"2022","d":368,"v":-8.46},{"s":"2022","d":369,"v":-9.03},{"s":"2022","d":370,"v":-8.66},{"s":"2022","d":371,"v":-9.28},{"s":"2022","d":372,"v":-9.8},
{"s":"2022","d":373,"v":-8.72},{"s":"2022","d":374,"v":-8.69},{"s":"2022","d":375,"v":-8.31},{"s":"2022","d":376,"v":-7.28},{"s":"2022","d":377,"v":-7.15},{"s":"2022","d":378,"v":-7.3},{"s":"2022","d":379,"v":-8.0},{"s":"2022","d":380,"v":-8.31},{"s":"2022","d":381,"v":-8.08},{"s":"2022","d":382,"v":-7.3},
{"s":"2022","d":383,"v":-6.62},{"s":"2022","d":384,"v":-6.05},{"s":"2022","d":385,"v":-6.08},{"s":"2022","d":386,"v":-5.77},{"s":"2022","d":387,"v":-5.12},{"s":"2022","d":388,"v":-4.85},{"s":"2022","d":389,"v":-5.46},{"s":"2022","d":390,"v":-5.46},{"s":"2022","d":391,"v":-5.15},{"s":"2022","d":392,"v":-4.85},
{"s":"2022","d":393,"v":-4.85},{"s":"2022","d":394,"v":-5.43},{"s":"2022","d":395,"v":-4.54},{"s":"2022","d":396,"v":-4.39},{"s":"2022","d":397,"v":-4.62},{"s":"2022","d":398,"v":-5.92},{"s":"2022","d":399,"v":-6.2},{"s":"2022","d":400,"v":-6.66},{"s":"2022","d":401,"v":-5.85},{"s":"2022","d":402,"v":-6.31},
{"s":"2022","d":403,"v":-6.88},{"s":"2022","d":404,"v":-6.88},{"s":"2022","d":405,"v":-6.97},{"s":"2022","d":406,"v":-6.42},{"s":"2022","d":407,"v":-7.46},{"s":"2022","d":408,"v":-8.23},{"s":"2022","d":409,"v":-8.88},{"s":"2022","d":410,"v":-8.92},{"s":"2022","d":411,"v":-8.31},{"s":"2022","d":412,"v":-8.26}
]},
"mark":{"type":"line","strokeWidth":3.2,"strokeJoin":"round"},
"encoding":{
"x":{"field":"d","type":"quantitative","scale":{"domain":[-19.6,431.5],"nice":false,"zero":false},
"axis":{"values":[0,100,200,300,400],"title":"Day","labelPadding":8,"titleY":117,"titleBaseline":"middle"}},
"y":{"field":"v","type":"quantitative","scale":{"domain":[-35.45,1.98],"nice":false,"zero":false},
"axis":{"values":[0,-10,-20,-30],"labelExpr":"datum.value + '%'","title":"Percentage Decline","labelPadding":11,"labelFontSize":35,"titleX":-169,"titleY":406.5,"titleBaseline":"middle"}},
"color":{"field":"s","type":"nominal","scale":{"domain":["2015","2016","2018","2020","2022"],"range":["#F8766D","#A3A500","#00BF7D","#00B0F6","#E76BF3"]},
"legend":{"title":null,"orient":"none","direction":"horizontal","legendX":299,"legendY":1030,"symbolType":"stroke","symbolSize":3249,"symbolStrokeWidth":4.5,"labelFont":"Liberation Sans","labelFontSize":36,"labelColor":"black","labelOffset":28,"columnPadding":21,"padding":0}}
}},
{"data":{"values":[{}]},
"mark":{"type":"text","text":["Source: YCharts (OfDollarsAndData.com)","Note: Figures do not include dividends and are not adjusted for inflation."],"font":"DejaVu Serif","fontSize":33.4,"align":"left","baseline":"alphabetic","lineHeight":36,"x":1,"y":1165,"color":"black"},
"encoding":{}}
]
}
